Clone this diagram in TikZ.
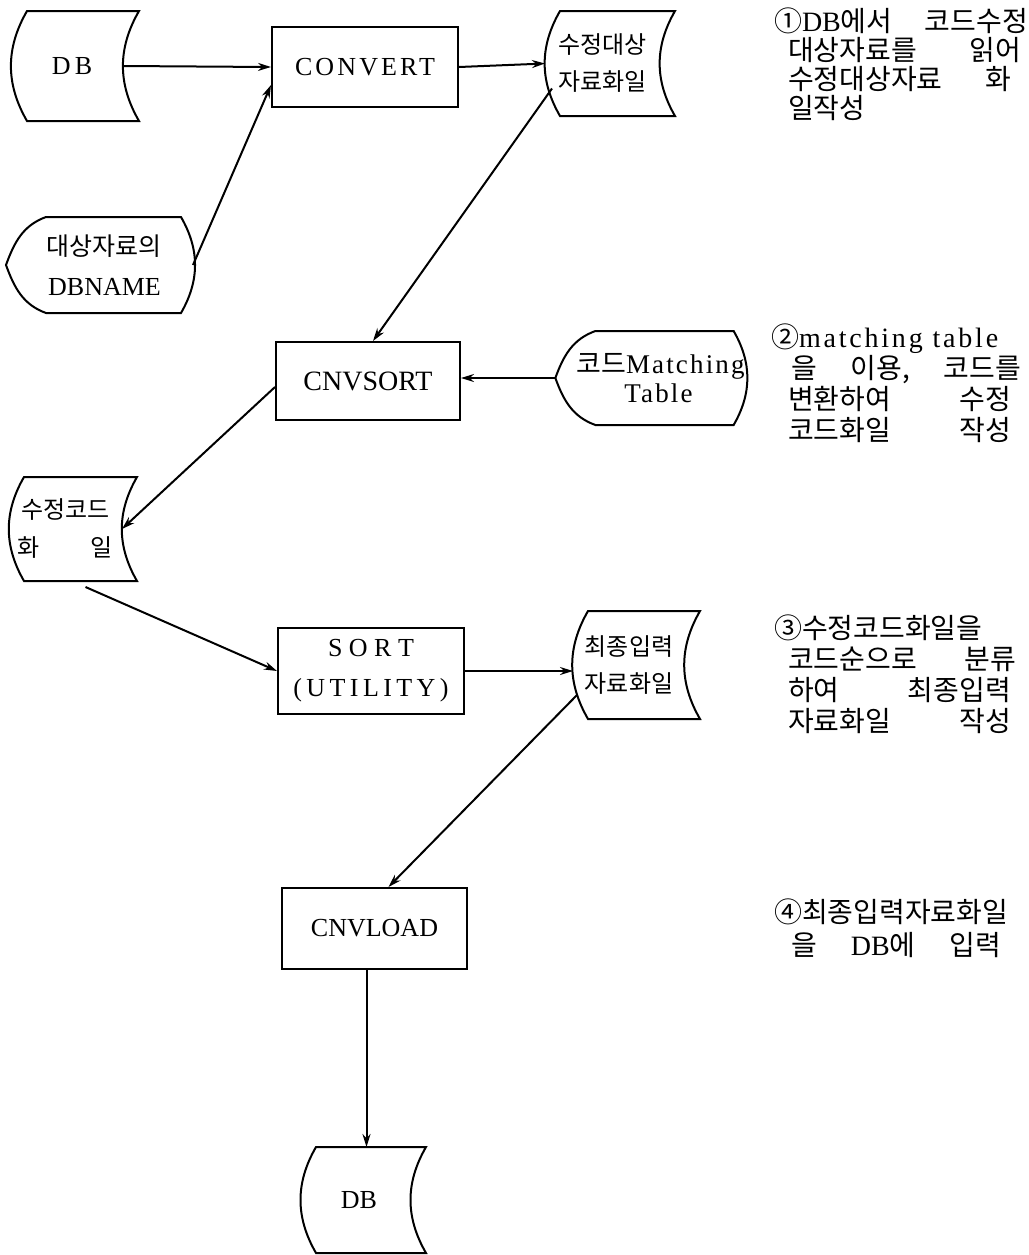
\documentclass[tikz,border=0pt]{standalone}
\usepackage{fontspec}
\setmainfont{Liberation Serif}
\newfontfamily\kr{Noto Sans CJK KR}
\usetikzlibrary{positioning,arrows.meta}

% file on disk: both sides bow to the left
\newcommand\storeline[1]{%
    \draw ([xshift=7.5pt]#1.north west) -- ([xshift=7.5pt]#1.north east)
        to[out=240,in=120] ([xshift=7.5pt]#1.south east)
        -- ([xshift=7.5pt]#1.south west)
        to[out=120,in=240] ([xshift=7.5pt]#1.north west) -- cycle;}
% manual input: pointed left, round right
\newcommand\manualline[1]{%
    \draw (#1.west) to[out=70,in=200] ([xshift=20pt]#1.north west)
        -- ([xshift=-6pt]#1.north east)
        to[out=-60,in=60] ([xshift=-6pt]#1.south east)
        -- ([xshift=20pt]#1.south west)
        to[out=160,in=-70] (#1.west) -- cycle;}

\begin{document}
\begin{tikzpicture}[x=0.5pt, y=-0.5pt, >={Stealth[length=6.5pt,width=4pt]}, line width=1pt,
    proc/.style={draw, minimum width=93pt, minimum height=40pt, inner sep=0pt,
        align=center, font=\fontsize{13}{20}\selectfont},
    store/.style={minimum width=55pt, minimum height=53pt, inner sep=0pt,
        align=center, font=\kr\fontsize{12}{18.5}\selectfont},
    manual/.style={minimum width=92.5pt, minimum height=47pt, inner sep=0pt,
        align=center, font=\fontsize{13}{20}\selectfont},
    note/.style={anchor=base west, inner sep=0pt, align=left,
        font=\kr\fontsize{14}{15.5}\selectfont}]
    \useasboundingbox (0,0) rectangle (1029,1255);

    \node[store, font=\fontsize{13}{16}\selectfont, minimum height=54pt] (db) at (68,66) {\hspace*{4pt}D\,B};
    \storeline{db}
    \node[proc] (convert) at (365,67) {\addfontfeature{LetterSpace=12}CONVERT};
    \node[store, minimum width=56.5pt, minimum height=51.5pt] (tgtfile) at (602.5,63.5) {수정대상\\자료화일};
    \storeline{tgtfile}
    \node[manual] (dbname) at (99.5,265) {\hspace*{5pt}{\kr\fontsize{12.5}{14}\selectfont 대상자료의}\\\hspace*{5pt}DBNAME};
    \manualline{dbname}

    \node[proc, minimum width=92pt, minimum height=39pt, font=\fontsize{14}{16}\selectfont] (cnvsort) at (368,381) {CNVSORT};
    \node[manual, minimum height=46pt, font=\fontsize{13.5}{14.5}\selectfont] (matchtbl) at (650.5,378)
        {\hspace*{10pt}{\kr 코드}{\addfontfeature{LetterSpace=8}Matching}\\\hspace*{8pt}{\addfontfeature{LetterSpace=8}Table}};
    \manualline{matchtbl}

    \node[store, minimum width=55.5pt, minimum height=51pt, font=\kr\fontsize{12}{19}\selectfont] (codefile) at (65.5,529) {수정코드\\\hbox to 47.5pt{화\hfill 일}};
    \storeline{codefile}

    \node[proc, minimum height=43pt] (sortbox) at (371,671) {S O R T\\{\addfontfeature{LetterSpace=17}(UTILITY)}};
    \node[store] (finalfile) at (629,665) {최종입력\\자료화일};
    \storeline{finalfile}

    \node[proc, minimum width=92.5pt, minimum height=40.5pt] (cnvload) at (374.5,928.5) {CNVLOAD};
    \node[store, font=\fontsize{13}{16}\selectfont, minimum width=54pt, minimum height=52pt] (dbout) at (356,1200) {\hspace*{3pt}DB};
    \storeline{dbout}

    \draw[->] (db.east) -- (convert.west);
    \draw[->] (dbname.east) -- ([yshift=-9pt]convert.west);
    \draw[->] (convert.east) -- (tgtfile.west);
    \draw[->] ([xshift=3.5pt,yshift=-12.5pt]tgtfile.west) -- ([xshift=2.5pt]cnvsort.north);
    \draw[->] (matchtbl.west) -- (matchtbl.west -| cnvsort.east);
    \draw[->] ([yshift=-3pt]cnvsort.west) -- (codefile.east);
    \draw[->] ([xshift=10pt,yshift=-3pt]codefile.south) -- (sortbox.west);
    \draw[->] (sortbox.east) -- (sortbox.east -| finalfile.west);
    \draw[->] ([xshift=2pt,yshift=-15pt]finalfile.west) -- ([xshift=7pt]cnvload.north);
    \coordinate (loadout) at ([xshift=-4pt]cnvload.south);
    \draw[->] (loadout) -- (loadout |- dbout.north);

    % notes: the node sits on the baseline of its last line
    \node[note, font=\kr\fontsize{14}{14.5}\selectfont] (note1) at (773,118) {%
        \hbox to 127pt{①{\rmfamily DB}에서\hfill 코드수정}\\
        \hspace*{7pt}\hbox to 116.5pt{대상자료를\hfill 읽어}\\
        \hspace*{7pt}\hbox to 111.5pt{수정대상자료\hfill 화}\\
        \hspace*{7pt}일작성};
    \node[note] (note2) at (770,440) {%
        ②{\rmfamily\addfontfeature{LetterSpace=10}matching table}\\
        \hspace*{10pt}\hbox to 115pt{을\hfill 이용,\hfill 코드를}\\
        \hspace*{8.5pt}\hbox to 111.5pt{변환하여\hfill 수정}\\
        \hspace*{8.5pt}\hbox to 111.5pt{코드화일\hfill 작성}};
    \node[note] (note3) at (773,731) {%
        ③수정코드화일을\\
        \hspace*{7pt}\hbox to 114pt{코드순으로\hfill 분류}\\
        \hspace*{7pt}\hbox to 111.5pt{하여\hfill 최종입력}\\
        \hspace*{7pt}\hbox to 111.5pt{자료화일\hfill 작성}};
    \node[note, font=\kr\fontsize{14}{16.5}\selectfont] (note4) at (773,955) {%
        ④최종입력자료화일\\
        \hspace*{8.5pt}\hbox to 105pt{을\hfill {\rmfamily DB}에\hfill 입력}};
\end{tikzpicture}
\end{document}
